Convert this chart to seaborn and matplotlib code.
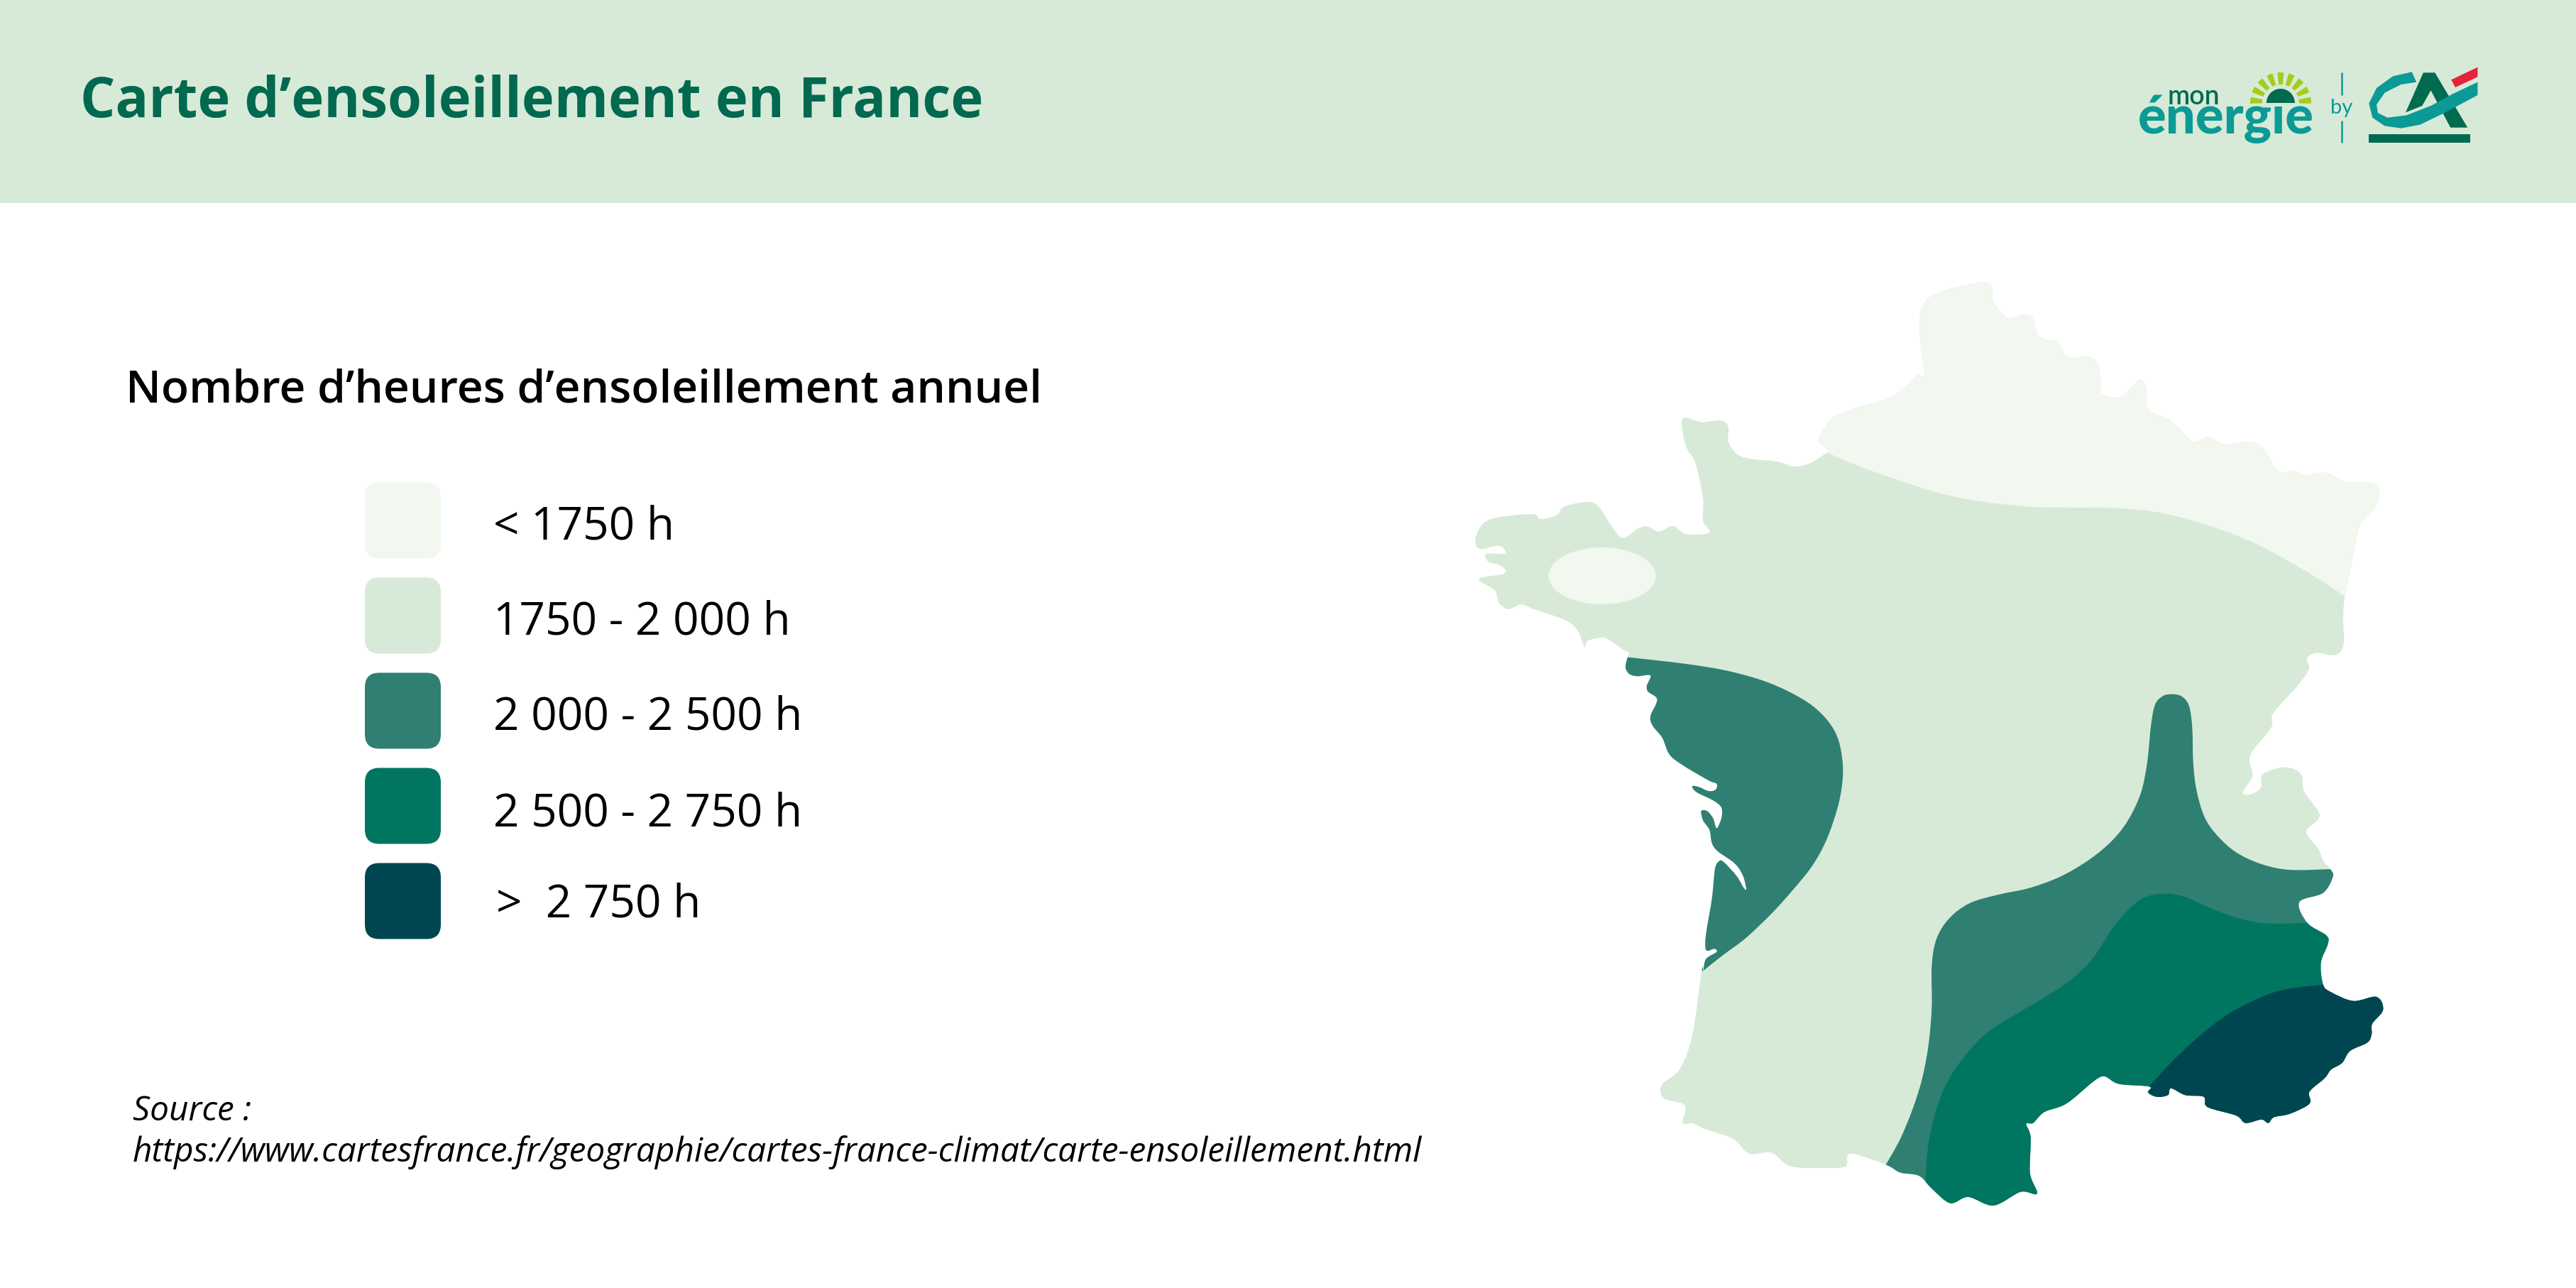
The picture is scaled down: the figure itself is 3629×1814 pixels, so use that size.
import numpy as np
import pandas as pd
import matplotlib
matplotlib.use('Agg')
import matplotlib.pyplot as plt
from matplotlib.path import Path
from matplotlib.patches import PathPatch, Ellipse, Polygon, Rectangle, Wedge
import seaborn as sns

W, H = 3629, 1815

zones = ['< 1750 h', '1750 - 2 000 h', '2 000 - 2 500 h', '2 500 - 2 750 h', '>  2 750 h']
zone_colors = ['#F2F7F0', '#D7EAD7', '#2F8072', '#007560', '#004650']

# outline (crop units, converted by the crop_* functions below)
coast_north_east = [
    (895, 110), (903, 125), (905, 170), (920, 210), (932, 222), (955, 210), (968, 225), (975, 275),
    (990, 292), (1005, 295), (1018, 335), (1030, 347), (1055, 342), (1070, 365), (1075, 430), (1075, 460),
    (1095, 472), (1112, 465), (1130, 425), (1140, 418), (1147, 450), (1150, 510), (1185, 545), (1215, 605),
    (1225, 610), (1245, 597), (1270, 620), (1305, 612), (1330, 630), (1355, 705), (1380, 703), (1395, 718),
    (1430, 710), (1460, 738), (1495, 740), (1513, 757), (1510, 810), (1485, 870), (1475, 950), (1460, 1100),
    (1457, 1170), (1458, 1250), (1445, 1285), (1415, 1278), (1400, 1295), (1403, 1330)]
coast_south_east = [
    (1310, 40), (1280, 70), (1235, 120), (1230, 160), (1165, 240), (1172, 300), (1142, 348), (1165, 355),
    (1198, 335), (1205, 295), (1275, 275), (1325, 295), (1335, 345), (1380, 405), (1378, 430), (1342, 465),
    (1380, 515), (1395, 550), (1418, 575), (1426, 597), (1395, 645), (1320, 672), (1345, 733), (1405, 770),
    (1410, 795), (1388, 850), (1395, 915), (1420, 937), (1490, 963), (1563, 951), (1584, 989), (1550, 1030),
    (1548, 1060), (1535, 1085), (1480, 1110), (1455, 1145), (1420, 1165), (1400, 1190), (1352, 1230),
    (1352, 1265), (1290, 1295), (1240, 1305), (1222, 1322), (1200, 1312), (1150, 1322), (1120, 1300),
    (1030, 1275), (1018, 1245), (960, 1240), (915, 1220), (905, 1240), (870, 1245), (842, 1232), (847, 1215),
    (750, 1207), (705, 1185), (670, 1200), (585, 1265), (515, 1290), (480, 1322), (458, 1325), (472, 1365),
    (470, 1470), (492, 1530), (440, 1525), (355, 1565), (275, 1540), (218, 1558), (160, 1515), (120, 1478),
    (60, 1468), (15, 1445)]
coast_south_west = [
    (680, 1308), (672, 1345), (640, 1350), (585, 1345), (555, 1305), (520, 1308), (495, 1265), (450, 1235),
    (430, 1218), (415, 1218), (418, 1165), (385, 1145), (382, 1105), (410, 1060), (430, 960), (445, 770)]
coast_atlantic = [
    (358, 1405), (370, 1355), (415, 1325), (405, 1312), (380, 1320), (368, 1310), (370, 1250), (395, 1100),
    (408, 975), (425, 942), (445, 945), (500, 1005), (530, 1055), (540, 1058), (525, 1000), (490, 950),
    (420, 900), (395, 865), (385, 810), (358, 770), (350, 730), (375, 730), (400, 760), (415, 802), (435, 760),
    (435, 715), (400, 685), (330, 650), (312, 625), (340, 628), (380, 645), (410, 640), (415, 615), (380, 600),
    (270, 535), (215, 490), (185, 420), (145, 370), (135, 330), (160, 275), (160, 250), (125, 225), (120, 200),
    (135, 157), (80, 160), (45, 150), (30, 120), (40, 75), (45, 60), (20, 48)]
coast_north_west = [
    (297, 1235), (285, 1230), (265, 1240), (260, 1260), (250, 1210), (230, 1175), (180, 1140), (160, 1125),
    (140, 1140), (125, 1120), (118, 1080), (93, 1045), (130, 1030), (135, 1015), (125, 1000), (108, 990),
    (105, 965), (135, 965), (125, 940), (95, 950), (88, 920), (100, 870), (125, 850), (178, 840), (190, 855),
    (215, 845), (230, 815), (275, 805), (300, 870), (320, 915), (345, 885), (360, 880), (378, 895), (400, 878),
    (420, 903), (457, 898), (447, 860), (447, 790), (435, 680), (420, 625), (415, 540), (445, 550), (475, 545),
    (487, 565), (487, 610), (500, 650), (520, 665), (565, 675), (590, 690), (615, 680), (640, 650), (645, 640),
    (630, 605), (650, 540), (680, 510), (740, 475), (765, 440), (785, 402), (797, 400), (790, 300), (792, 190),
    (820, 140), (875, 112)]

# limits between the sunshine zones
limit_north = [
    (70, 178), (150, 230), (250, 285), (350, 335), (450, 372), (550, 393), (650, 406), (750, 408), (870, 410),
    (970, 425), (1070, 460), (1170, 510), (1270, 575), (1370, 660), (1440, 725), (1495, 782)]
limit_atlantic = [
    (40, 80), (150, 92), (300, 110), (450, 135), (600, 175), (720, 225), (820, 285), (890, 355), (930, 430),
    (948, 530), (945, 620), (925, 720), (880, 850), (820, 960), (740, 1060), (650, 1160), (540, 1265),
    (440, 1340), (358, 1405)]
limit_2000 = [
    (15, 1445), (60, 1370), (100, 1280), (130, 1190), (150, 1090), (160, 980), (160, 860), (175, 780),
    (215, 720), (280, 675), (370, 650), (470, 630), (570, 595), (660, 545), (730, 490), (780, 430), (820, 350),
    (840, 260), (852, 150), (865, 90), (890, 65), (920, 60), (950, 67), (972, 95), (982, 160), (985, 260),
    (995, 340), (1020, 420), (1060, 475), (1120, 525), (1200, 560), (1290, 577), (1418, 575)]
limit_2500 = [
    (140, 1478), (150, 1380), (175, 1280), (210, 1200), (260, 1130), (330, 1060), (420, 1005), (520, 950),
    (600, 900), (670, 835), (730, 750), (790, 685), (840, 655), (900, 647), (960, 657), (1040, 690),
    (1130, 720), (1220, 735), (1345, 733)]
limit_2750 = [(845, 1215), (920, 1140), (1000, 1070), (1090, 1005), (1180, 960), (1270, 930), (1395, 915)]


def crop(pts, x0, y0, fx, fy):
    a = np.array(pts, dtype=float)
    return np.column_stack([x0 + a[:, 0] / fx, y0 + a[:, 1] / fy])


def crop_upper(pts):
    return crop(pts, 2000, 350, 1.12, 2.24)


def crop_lower(pts):
    return crop(pts, 2000, 1000, 1.12, 2.09)


def crop_atlantic(pts):
    return crop(pts, 2280, 900, 3, 3)


def crop_south(pts):
    return crop(pts, 2650, 950, 2.24, 2.09)


def crop_north(pts):
    return crop(pts, 2540, 580, 1.96, 3)


def smooth_segments(p, closed=False):
    # catmull-rom turned into bezier controls
    n = len(p)
    verts, codes = [], []
    last = n if closed else n - 1
    for i in range(last):
        if closed:
            p0, p1, p2, p3 = p[(i - 1) % n], p[i], p[(i + 1) % n], p[(i + 2) % n]
        else:
            p0, p1, p2, p3 = p[max(i - 1, 0)], p[i], p[i + 1], p[min(i + 2, n - 1)]
        verts += [p1 + (p2 - p0) / 6, p2 - (p3 - p1) / 6, p2]
        codes += [Path.CURVE4] * 3
    return verts, codes


def outline_path(p):
    verts, codes = smooth_segments(p, closed=True)
    return Path([p[0]] + verts + [p[0]], [Path.MOVETO] + codes + [Path.CLOSEPOLY])


def zone_path(limit, outer):
    verts, codes = smooth_segments(limit)
    verts = [limit[0]] + verts + [np.array(q, dtype=float) for q in outer] + [limit[0]]
    codes = [Path.MOVETO] + codes + [Path.LINETO] * len(outer) + [Path.CLOSEPOLY]
    return Path(verts, codes)


def rounded_square(r=0.38):
    k = 1 - r
    v = [(-k, -1), (k, -1), (1, -1), (1, -k), (1, k), (1, 1), (k, 1), (-k, 1), (-1, 1), (-1, k), (-1, -k), (-1, -1), (-k, -1), (-k, -1)]
    c = [Path.MOVETO, Path.LINETO, Path.CURVE3, Path.CURVE3, Path.LINETO, Path.CURVE3, Path.CURVE3, Path.LINETO,
         Path.CURVE3, Path.CURVE3, Path.LINETO, Path.CURVE3, Path.CURVE3, Path.CLOSEPOLY]
    return Path(v, c)


def logo_x(x):
    return 2950 + np.asarray(x, dtype=float) / 2.613


def logo_y(y):
    return 60 + np.asarray(y, dtype=float) / 3


def logo_poly(ax, pts, color, z=5):
    a = np.array(pts, dtype=float)
    ax.add_patch(Polygon(np.column_stack([logo_x(a[:, 0]), logo_y(a[:, 1])]), closed=True, fc=color, ec='none', zorder=z))


sns.set_theme(style='white')
plt.rcParams['font.family'] = ['Open Sans', 'DejaVu Sans']
palette = sns.color_palette(zone_colors)

fig = plt.figure(figsize=(W / 100, H / 100), dpi=100, facecolor='white')
ax = fig.add_axes([0, 0, 1, 1])

# legend swatches
legend_df = pd.DataFrame({'zone': zones, 'x': 567.5, 'y': 734 + 134 * np.arange(len(zones))})
sns.scatterplot(data=legend_df, x='x', y='y', hue='zone', palette=palette, marker=rounded_square(),
                s=(107 * 0.72) ** 2, linewidth=0, legend=False, ax=ax)

ax.set_xlim(0, W)
ax.set_ylim(H, 0)
ax.axis('off')

ax.add_patch(Rectangle((0, 0), W, 287, fc=zone_colors[1], ec='none', zorder=0))

# map
coast = np.vstack([crop_upper(coast_north_east), crop_south(coast_south_east), crop_lower(coast_south_west),
                   crop_atlantic(coast_atlantic), crop_upper(coast_north_west)])
france = PathPatch(outline_path(coast), fc=zone_colors[1], ec='none', zorder=1)
ax.add_patch(france)

zone_shapes = [
    (zone_path(crop_north(limit_north), [(3500, 841), (3500, 360), (2700, 360), (2500, 480), (2500, 636)]), 0),
    (zone_path(crop_atlantic(limit_atlantic), [(2250, 1368), (2250, 930)]), 2),
    (zone_path(crop_south(limit_2000), [(3500, 1225), (3500, 1800), (2657, 1800)]), 2),
    (zone_path(crop_south(limit_2500), [(3500, 1300), (3500, 1800), (2712, 1800)]), 3),
    (zone_path(crop_south(limit_2750), [(3500, 1388), (3500, 1700), (3027, 1700)]), 4),
]
for n, (shape, idx) in enumerate(zone_shapes):
    patch = PathPatch(shape, fc=zone_colors[idx], ec='none', zorder=2 + n * 0.1)
    ax.add_patch(patch)
    patch.set_clip_path(france)
ax.add_patch(Ellipse((2257, 812), 151, 80, fc=zone_colors[0], ec='none', zorder=3))

# texts
ax.text(113, 165, 'Carte d’ensoleillement en France', fontsize=55.9, fontweight='bold', color='#00694F', va='baseline')
ax.text(177, 566, 'Nombre d’heures d’ensoleillement annuel', fontsize=46.1, fontweight='semibold', color='black', va='baseline')
label_x = [695, 695, 695, 695, 699]
label_base = [759, 894, 1028, 1163, 1291]
for lab, lx, ly in zip(zones, label_x, label_base):
    ax.text(lx, ly, lab, fontsize=46, color='black', va='baseline')
ax.text(187, 1578, 'Source :', fontsize=34.4, style='italic', color='black', va='baseline')
ax.text(187, 1636, 'https://www.cartesfrance.fr/geographie/cartes-france-climat/carte-ensoleillement.html',
        fontsize=34.4, style='italic', color='black', va='baseline')

# logo
teal = '#0B9A96'
dark = '#006B4F'
ax.text(logo_x(270), logo_y(260), 'mon', fontsize=27, color=dark, va='baseline', fontweight='semibold', family='Lato')
ax.text(logo_x(162), logo_y(384), 'énergie', fontsize=53.5, color=teal, va='baseline', fontweight='black', family='Lato')
ax.text(logo_x(870), logo_y(300), 'by', fontsize=21, color=teal, va='baseline', family='Lato')
ax.add_patch(Wedge((logo_x(687), logo_y(258)), 20, 180, 360, fc=dark, ec='none', zorder=5))
for ang in np.arange(-175, 0, 21.25):
    ax.add_patch(Wedge((logo_x(687), logo_y(258)), 43, ang - 6, ang + 6, width=17, fc='#A4CC1B', ec='none', zorder=5))
ax.plot([logo_x(911)] * 2, [logo_y(130), logo_y(225)], color=teal, lw=1.8, solid_capstyle='butt')
ax.plot([logo_x(911)] * 2, [logo_y(332), logo_y(427)], color=teal, lw=1.8, solid_capstyle='butt')
logo_poly(ax, [(1147, 298), (1212, 130), (1255, 130), (1375, 362), (1312, 362), (1240, 205), (1208, 270)], dark)
logo_poly(ax, [(1170, 127), (1100, 145), (1040, 195), (1012, 260), (1025, 320), (1070, 355), (1130, 365), (1200, 350),
               (1290, 300), (1412, 225), (1412, 170), (1320, 220), (1240, 270), (1150, 310), (1080, 320), (1045, 300),
               (1040, 265), (1070, 215), (1130, 180), (1187, 170)], teal, z=6)
logo_poly(ax, [(1315, 160), (1412, 107), (1412, 148), (1330, 192)], '#E5233C')
logo_poly(ax, [(1010, 390), (1385, 390), (1385, 427), (1010, 427)], dark)

fig.savefig('out.png', dpi=100, facecolor='white')
